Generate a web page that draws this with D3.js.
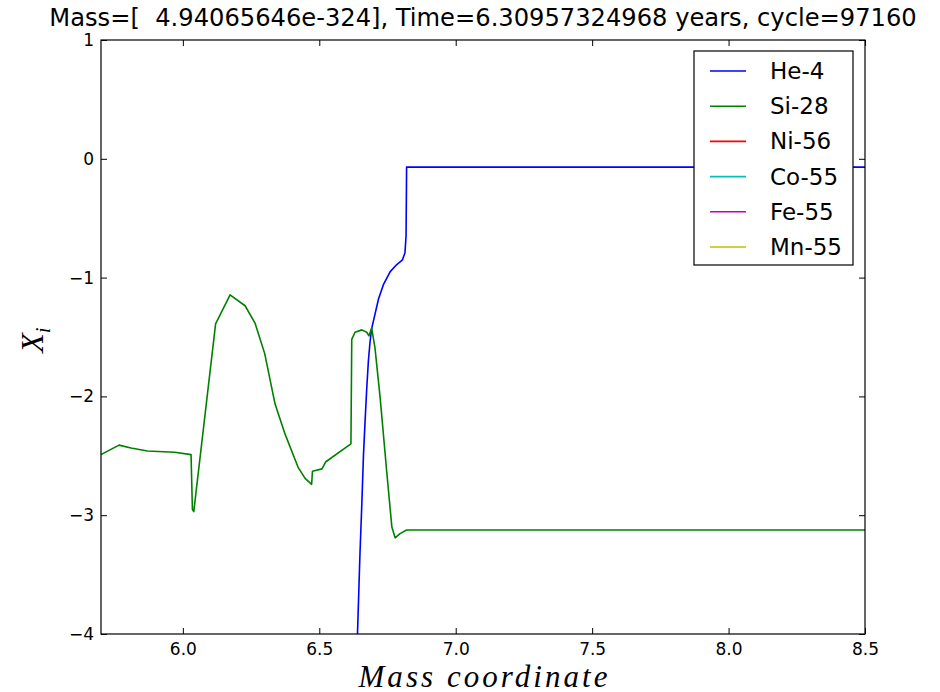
<!DOCTYPE html>
<html>
<head>
<meta charset="utf-8">
<script src="https://cdn.jsdelivr.net/npm/d3@7"></script>
<style>
  body { margin: 0; background: #fff; }
  svg { display: block; }
</style>
</head>
<body>
<div id="chart"></div>
<script>
// values
var titleText = "Mass=[  4.94065646e-324], Time=6.30957324968 years, cycle=97160";
var xTicks = [6.0, 6.5, 7.0, 7.5, 8.0, 8.5];
var yTicks = [-4, -3, -2, -1, 0, 1];

var species = ["He-4", "Si-28", "Ni-56", "Co-55", "Fe-55", "Mn-55"];
var colors = ["#0000ff", "#008000", "#ff0000", "#00bfbf", "#bf00bf", "#bfbf00"];

var he4Mass = [6.636, 6.640, 6.649, 6.656, 6.662, 6.668, 6.674, 6.680, 6.686, 6.692, 6.704, 6.717, 6.735, 6.760, 6.784, 6.805, 6.814, 6.818, 6.820, 8.5];
var he4X = [-4.3, -4.0, -3.33, -2.9, -2.49, -2.2, -1.93, -1.70, -1.54, -1.43, -1.31, -1.18, -1.06, -0.95, -0.89, -0.85, -0.79, -0.65, -0.07, -0.07];

var si28Mass = [5.70, 5.766, 5.81, 5.87, 5.97, 6.03, 6.035, 6.04, 6.12, 6.173, 6.228, 6.265, 6.30, 6.338, 6.375, 6.423, 6.448, 6.472, 6.475, 6.51, 6.524, 6.616, 6.619, 6.631, 6.656, 6.674, 6.682, 6.692, 6.704, 6.723, 6.747, 6.766, 6.778, 6.796, 6.82, 8.5];
var si28X = [-2.49, -2.41, -2.435, -2.46, -2.47, -2.49, -2.95, -2.97, -1.39, -1.145, -1.237, -1.386, -1.64, -2.065, -2.32, -2.60, -2.69, -2.74, -2.63, -2.61, -2.55, -2.40, -1.52, -1.46, -1.44, -1.46, -1.49, -1.425, -1.59, -2.01, -2.63, -3.10, -3.19, -3.155, -3.125, -3.125];

// the rest sit below the plotted range
var ni56Mass = [], ni56X = [];
var co55Mass = [], co55X = [];
var fe55Mass = [], fe55X = [];
var mn55Mass = [], mn55X = [];

var seriesMass = [he4Mass, si28Mass, ni56Mass, co55Mass, fe55Mass, mn55Mass];
var seriesX = [he4X, si28X, ni56X, co55X, fe55X, mn55X];

var svgWidth = 940;
var svgHeight = 692;
var margin = { top: 40, right: 75, bottom: 58, left: 101 };
var chartWidth = svgWidth - margin.left - margin.right;
var chartHeight = svgHeight - margin.top - margin.bottom;

var svg = d3.select("#chart").append("svg")
  .attr("width", svgWidth)
  .attr("height", svgHeight);

var chartGroup = svg.append("g")
  .attr("transform", `translate(${margin.left}, ${margin.top})`);

var xScale = d3.scaleLinear().domain([5.7, 8.5]).range([0, chartWidth]);
var yScale = d3.scaleLinear().domain([-4, 1]).range([chartHeight, 0]);

svg.append("defs").append("clipPath").attr("id", "clip")
  .append("rect").attr("width", chartWidth).attr("height", chartHeight);

// lines
var line = d3.line()
  .x(d => xScale(d[0]))
  .y(d => yScale(d[1]));

var plot = chartGroup.append("g").attr("clip-path", "url(#clip)");
species.forEach(function(name, i) {
  var pts = seriesMass[i].map((m, j) => [m, seriesX[i][j]]);
  if (pts.length == 0) return;
  plot.append("path")
    .datum(pts)
    .attr("fill", "none")
    .attr("stroke", colors[i])
    .attr("stroke-width", 1.6)
    .attr("stroke-linejoin", "round")
    .attr("d", line);
});

// axes, ticks pointing inwards on all four sides
var tickFont = "DejaVu Sans, sans-serif";
function styleAxis(g) {
  g.select(".domain").remove();
  g.selectAll("line").attr("stroke", "#000").attr("stroke-width", 1);
  g.selectAll("text").attr("font-family", tickFont).attr("font-size", 17).attr("fill", "#000");
}
var fmtX = d3.format(".1f");
var fmtY = d => d < 0 ? "\u2212" + Math.abs(d) : String(d);

chartGroup.append("g")
  .attr("transform", `translate(0, ${chartHeight})`)
  .call(d3.axisBottom(xScale).tickValues(xTicks).tickFormat(fmtX).tickSizeInner(-6).tickPadding(9))
  .call(styleAxis);
chartGroup.append("g")
  .call(d3.axisTop(xScale).tickValues(xTicks).tickFormat("").tickSizeInner(-6))
  .call(styleAxis);
chartGroup.append("g")
  .call(d3.axisLeft(yScale).tickValues(yTicks).tickFormat(fmtY).tickSizeInner(-6).tickPadding(7))
  .call(styleAxis);
chartGroup.append("g")
  .attr("transform", `translate(${chartWidth}, 0)`)
  .call(d3.axisRight(yScale).tickValues(yTicks).tickFormat("").tickSizeInner(-6))
  .call(styleAxis);

chartGroup.append("rect")
  .attr("width", chartWidth)
  .attr("height", chartHeight)
  .attr("fill", "none")
  .attr("stroke", "#000")
  .attr("stroke-width", 1.2);

// title, sized to span the same width as in the picture
var title = svg.append("text")
  .attr("x", margin.left + chartWidth / 2)
  .attr("y", 26)
  .attr("text-anchor", "middle")
  .attr("font-family", "DejaVu Sans, sans-serif")
  .attr("font-size", 20)
  .style("white-space", "pre")
  .attr("xml:space", "preserve")
  .text(titleText);
var tw = title.node().getComputedTextLength();
title.attr("font-size", 20 * 868 / tw);

// axis labels
svg.append("text")
  .attr("x", margin.left + chartWidth / 2)
  .attr("y", 687)
  .attr("text-anchor", "middle")
  .attr("font-family", "Liberation Serif, serif")
  .attr("font-style", "italic")
  .attr("font-size", 31)
  .attr("textLength", 249)
  .attr("lengthAdjust", "spacing")
  .text("Mass coordinate");

var yLabel = svg.append("text")
  .attr("transform", "translate(43, 340) rotate(-90)")
  .attr("text-anchor", "middle")
  .attr("font-family", "Liberation Serif, serif")
  .attr("font-style", "italic")
  .attr("font-size", 32);
yLabel.append("tspan").text("X");
yLabel.append("tspan").attr("font-size", 21).attr("dy", 7).text("i");

// legend
var legend = svg.append("g").attr("transform", "translate(694, 51)");
legend.append("rect")
  .attr("width", 159)
  .attr("height", 214)
  .attr("fill", "#fff")
  .attr("stroke", "#000")
  .attr("stroke-width", 1.2);
var rowY = d3.scalePoint().domain(species).range([20, 196]);
species.forEach(function(name, i) {
  var row = legend.append("g").attr("transform", `translate(0, ${rowY(name)})`);
  row.append("line")
    .attr("x1", 16).attr("x2", 52)
    .attr("stroke", colors[i])
    .attr("stroke-width", 1.6);
  row.append("text")
    .attr("x", 76)
    .attr("y", 8)
    .attr("font-family", "DejaVu Sans, sans-serif")
    .attr("font-size", 23)
    .text(name);
});
</script>
</body>
</html>
